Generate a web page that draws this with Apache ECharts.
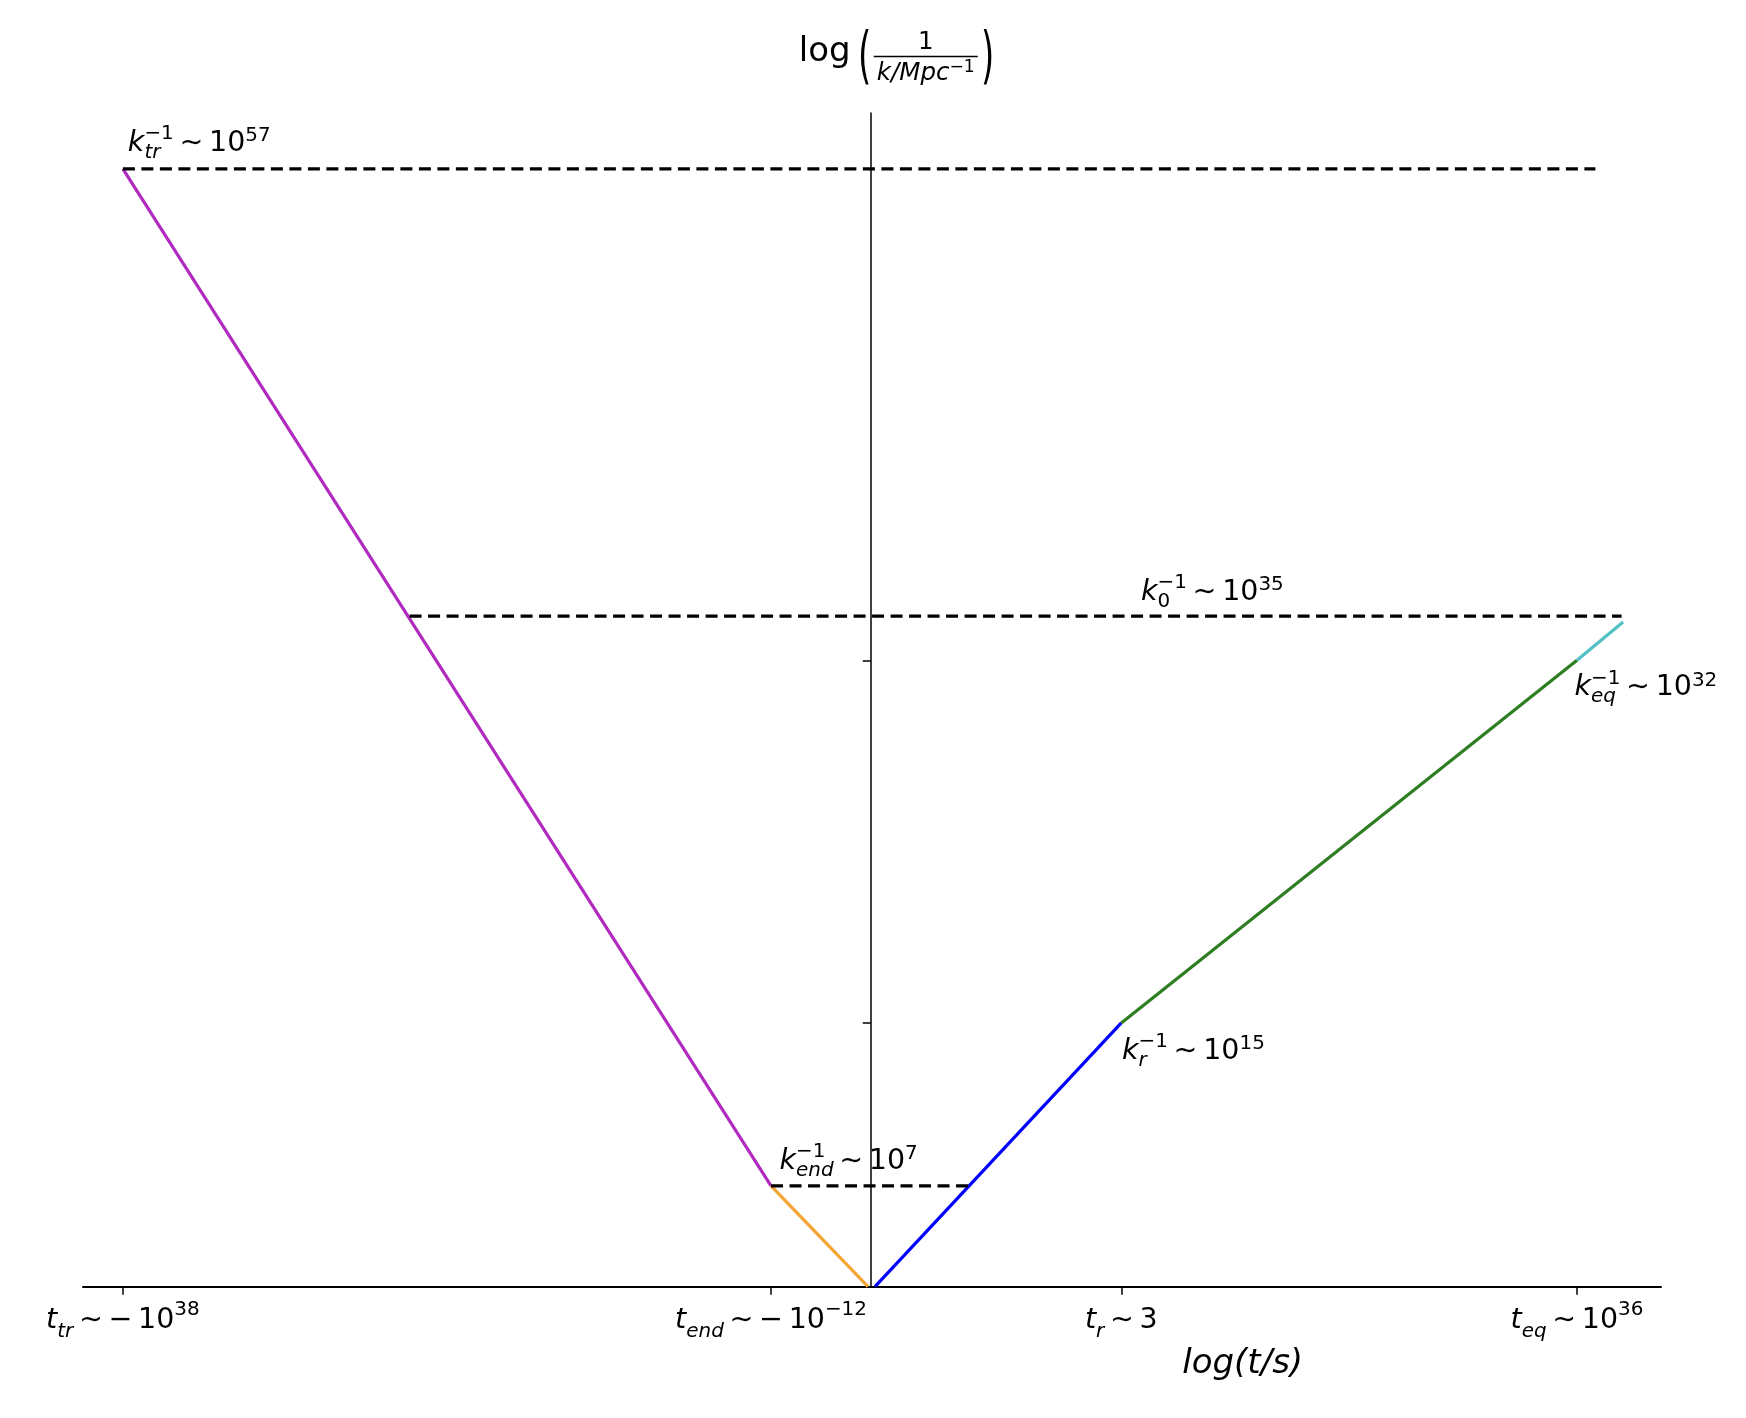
<!DOCTYPE html>
<html>
<head>
<meta charset="utf-8">
<script src="https://cdn.jsdelivr.net/npm/echarts@6/dist/echarts.min.js"></script>
<style>
  html, body { margin: 0; padding: 0; background: #fff; }
  #chart { width: 1746px; height: 1418px; }
</style>
</head>
<body>
<div id="chart"></div>
<script>
// ---- data (log t, log 1/k), arbitrary units ----
const tickX = [-30, -4, 10.05, 28.33];
const tickLabels = [
  [['t', 'i'], ['tr', 'sb'], ['\u2009∼\u2009−\u200910', 'm'], ['38', 'sp']],
  [['t', 'i'], ['end', 'sb'], ['\u2009∼\u2009−\u200910', 'm'], ['−12', 'sp']],
  [['t', 'i'], ['r', 'sb'], ['\u2009∼\u20093', 'm']],
  [['t', 'i'], ['eq', 'sb'], ['\u2009∼\u200910', 'm'], ['36', 'sp']]
];
const yTicks = [13.45, 31.94];

const inflation = [[-30, 57], [-4, 5.14]];
const reheating = [[-4, 5.14], [-0.11, 0]];
const radiation1 = [[0.17, 0], [10.05, 13.45]];
const radiation2 = [[10.05, 13.45], [28.33, 31.94]];
const matter = [[28.33, 31.94], [30.18, 33.9]];

const ktrLine = [[-30, 57], [29.07, 57]];
const k0Line = [[-18.5, 34.19], [30.12, 34.19]];
const kendLine = [[-4, 5.14], [3.96, 5.14]];

const kLabelPos = [[-29.8, 57.79], [10.84, 34.91], [-3.66, 5.88], [10.08, 11.5], [28.23, 30.03]];
const kLabels = [
  [['k', 'i'], ['tr', 'sb'], ['−1', 'ss'], ['\u2009∼\u200910', 'm'], ['57', 'sp']],
  [['k', 'i'], ['0', 'sbr'], ['−1', 'ss'], ['\u2009∼\u200910', 'm'], ['35', 'sp']],
  [['k', 'i'], ['end', 'sb'], ['−1', 'ss'], ['\u2009∼\u200910', 'm'], ['7', 'sp']],
  [['k', 'i'], ['r', 'sb'], ['−1', 'ss'], ['\u2009∼\u200910', 'm'], ['15', 'sp']],
  [['k', 'i'], ['eq', 'sb'], ['−1', 'ss'], ['\u2009∼\u200910', 'm'], ['32', 'sp']]
];

const FONT = 'DejaVu Sans';
const FS = 28.5;
const SM = FS * 0.7;
const L = 42;

const chart = echarts.init(document.getElementById('chart'));

// rich text line heights so sub/sup sit below/above the baseline
const hSup = 2 * (L / 2 + 0.346 * (FS - SM) - 0.37 * FS);
const hSub = 2 * (L / 2 - 0.346 * (FS - SM) - 0.22 * FS);

function toRich(parts) {
  return parts.map(p => '{' + p[1] + '|' + p[0] + '}').join('');
}

const measureCtx = document.createElement('canvas').getContext('2d');
function textWidth(t, font) {
  measureCtx.font = font;
  return measureCtx.measureText(t).width;
}

// math-like label: px,py is the baseline start (or centre when align = 'center')
function mathGroup(parts, fs, px, py, align) {
  const sm = fs * 0.7;
  let x = 0, subStart = 0, subW = 0;
  const children = [];
  parts.forEach(([t, k]) => {
    const small = k !== 'i' && k !== 'm';
    const size = small ? sm : fs;
    const italic = k === 'i' || k === 'sb';
    const font = (italic ? 'italic ' : '') + size + 'px "' + FONT + '"';
    const w = textWidth(t, font);
    let bx = x, rise = 0;
    if (k === 'sb' || k === 'sbr') { rise = -0.22 * fs; subStart = x; subW = w; }
    if (k === 'sp') rise = 0.37 * fs;
    if (k === 'ss') { rise = 0.43 * fs; bx = subStart; }
    children.push({
      type: 'text', x: bx, y: -rise - 0.346 * size, silent: true,
      style: {
        text: t, font: font, fontSize: size, fontFamily: FONT, fontStyle: italic ? 'italic' : 'normal',
        fill: '#000', align: 'left', verticalAlign: 'middle', textAlign: 'left', textVerticalAlign: 'middle'
      }
    });
    x = k === 'ss' ? subStart + Math.max(w, subW) : bx + w;
  });
  if (align === 'center') children.forEach(c => { c.x -= x / 2; });
  return { type: 'group', x: px, y: py, children: children };
}

function lineSeries(data, color, width, dash) {
  return {
    type: 'line', data: data, showSymbol: false, silent: true,
    lineStyle: { color: color, width: width, type: dash || 'solid' }
  };
}

const option = {
  animation: false,
  backgroundColor: '#fff',
  grid: { left: 83, right: 85, top: 113, bottom: 131.3 },
  xAxis: {
    type: 'value', min: -31.6, max: 31.7,
    axisLine: { onZero: true, lineStyle: { color: '#000', width: 2 } },
    axisTick: { customValues: tickX, length: 8, lineStyle: { color: '#000', width: 1.5 } },
    axisLabel: {
      customValues: tickX, margin: 13, color: '#000',
      formatter: function (v) {
        let best = 0;
        tickX.forEach((t, i) => { if (Math.abs(t - v) < Math.abs(tickX[best] - v)) best = i; });
        return toRich(tickLabels[best]);
      },
      rich: {
        i: { fontFamily: FONT, fontSize: FS, fontStyle: 'italic', lineHeight: L, verticalAlign: 'middle', color: '#000' },
        m: { fontFamily: FONT, fontSize: FS, lineHeight: L, verticalAlign: 'middle', color: '#000' },
        sb: { fontFamily: FONT, fontSize: SM, fontStyle: 'italic', lineHeight: hSub, verticalAlign: 'bottom', color: '#000' },
        sp: { fontFamily: FONT, fontSize: SM, lineHeight: hSup, verticalAlign: 'top', color: '#000' }
      }
    },
    splitLine: { show: false }
  },
  yAxis: {
    type: 'value', min: 0, max: 59.85,
    axisLine: { show: true, onZero: true, lineStyle: { color: '#000', width: 1.5 } },
    axisTick: { show: true, customValues: yTicks, length: 8, lineStyle: { color: '#000', width: 1.5 } },
    axisLabel: { show: false },
    splitLine: { show: false }
  },
  series: [
    lineSeries(inflation, '#b02ac0', 3.2),
    lineSeries(reheating, '#f5a533', 3.2),
    lineSeries(radiation1, '#0000ff', 3.2),
    lineSeries(radiation2, '#2e7d22', 3.2),
    lineSeries(matter, '#52c0c4', 3.2),
    lineSeries(ktrLine, '#000', 3.2, [12, 6.5]),
    lineSeries(k0Line, '#000', 3.2, [12, 6.5]),
    lineSeries(kendLine, '#000', 3.2, [12, 6.5])
  ]
};
chart.setOption(option);

// annotations and axis titles
const graphic = [];
kLabels.forEach((parts, i) => {
  const p = chart.convertToPixel({ gridIndex: 0 }, kLabelPos[i]);
  graphic.push(mathGroup(parts, FS, p[0], p[1]));
});

const xt = chart.convertToPixel({ gridIndex: 0 }, [14.92, 0]);
graphic.push(mathGroup([['log(t/s)', 'i']], 34, xt[0], xt[1] + 89, 'center'));

const yt = chart.convertToPixel({ gridIndex: 0 }, [0, 59.85]);
const x0 = yt[0], yTop = yt[1];
graphic.push(mathGroup([['log', 'm']], 34, x0 - 72, yTop - 48.6));
graphic.push({
  type: 'text', x: x0 - 6, y: yTop - 53.6, scaleY: 1.85, silent: true,
  style: { text: '(', fontSize: 34, fontFamily: FONT, font: '34px "' + FONT + '"', fill: '#000',
    align: 'center', verticalAlign: 'middle', textAlign: 'center', textVerticalAlign: 'middle' }
});
graphic.push({
  type: 'text', x: x0 + 117, y: yTop - 53.6, scaleY: 1.85, silent: true,
  style: { text: ')', fontSize: 34, fontFamily: FONT, font: '34px "' + FONT + '"', fill: '#000',
    align: 'center', verticalAlign: 'middle', textAlign: 'center', textVerticalAlign: 'middle' }
});
graphic.push(mathGroup([['1', 'm']], 24.5, x0 + 55, yTop - 61.6, 'center'));
graphic.push({
  type: 'line', silent: true,
  shape: { x1: x0 + 3, y1: yTop - 56.6, x2: x0 + 107, y2: yTop - 56.6 },
  style: { stroke: '#000', lineWidth: 1.5 }
});
graphic.push(mathGroup([['k/Mpc', 'i'], ['−1', 'sp']], 24.5, x0 + 55, yTop - 30.6, 'center'));

chart.setOption({ graphic: graphic });
</script>
</body>
</html>
